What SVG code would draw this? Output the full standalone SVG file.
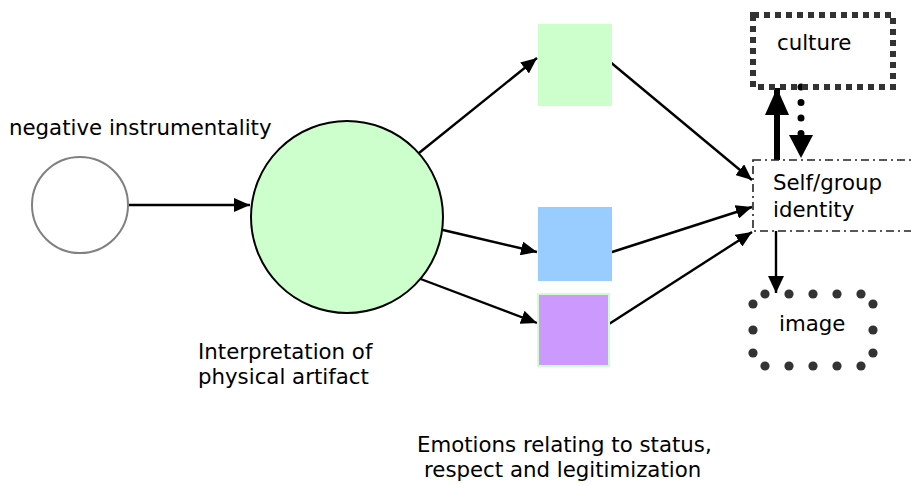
<svg xmlns="http://www.w3.org/2000/svg" width="911" height="485" viewBox="0 0 911 485">
  <style>
    text { font-family: "DejaVu Sans", Verdana, sans-serif; font-size: 21.3px; fill: #000; }
    .link { stroke: #000; stroke-width: 2.4; fill: none; marker-end: url(#head); }
    .dot { fill: #333; }
  </style>
  <defs>
    <marker id="head" markerUnits="userSpaceOnUse" viewBox="0 0 16 14" markerWidth="16" markerHeight="14" refX="16" refY="7" orient="auto">
      <path d="M0,0 L16,7 L0,14 z" fill="#000"/>
    </marker>
    <marker id="headSmall" markerUnits="userSpaceOnUse" viewBox="0 0 17 16" markerWidth="17" markerHeight="16" refX="17" refY="8" orient="auto">
      <path d="M0,0 L17,8 L0,16 z" fill="#000"/>
    </marker>
    <marker id="headBig" markerUnits="userSpaceOnUse" viewBox="0 0 27 24" markerWidth="27" markerHeight="24" refX="27" refY="12" orient="auto">
      <path d="M0,0 L27,12 L0,24 z" fill="#000"/>
    </marker>
  </defs>

  <!-- connectors -->
  <g id="connectors">
    <line class="link" x1="129" y1="205" x2="250" y2="205"/>
    <line class="link" x1="419" y1="153" x2="537" y2="58"/>
    <line class="link" x1="443" y1="230" x2="537" y2="252"/>
    <line class="link" x1="418" y1="278" x2="537" y2="323"/>
    <line class="link" x1="609" y1="61" x2="752" y2="180"/>
    <line class="link" x1="609" y1="253" x2="752" y2="207"/>
    <line class="link" x1="609" y1="324" x2="752" y2="232"/>
    <!-- self/group -> culture (bold) -->
    <line x1="777" y1="160" x2="777" y2="88" stroke="#000" stroke-width="6" marker-end="url(#headBig)"/>
    <!-- culture -> self/group (dotted) -->
    <line x1="801" y1="87" x2="801" y2="140" stroke="#000" stroke-width="7" stroke-linecap="round" stroke-dasharray="0 15.5"/>
    <path d="M789,135 L813,135 L801,158 z" fill="#000"/>
    <!-- self/group -> image -->
    <line x1="776" y1="231" x2="776" y2="293" stroke="#000" stroke-width="2.4" marker-end="url(#headSmall)"/>
  </g>

  <g id="negative-instrumentality">
    <circle cx="80" cy="205" r="48" fill="#fff" stroke="#808080" stroke-width="2"/>
    <text x="9" y="135">negative instrumentality</text>
  </g>

  <g id="interpretation">
    <circle cx="347" cy="217" r="96" fill="#ccffcc" stroke="#000" stroke-width="2"/>
    <text x="198" y="359">Interpretation of</text>
    <text x="198" y="384">physical artifact</text>
  </g>

  <g id="emotion-status">
    <rect x="538" y="24" width="74" height="82" fill="#ccffcc"/>
  </g>
  <g id="emotion-respect">
    <rect x="538" y="207" width="74" height="74" fill="#99ccff"/>
  </g>
  <g id="emotion-legitimization">
    <rect x="538" y="294" width="71" height="72" fill="#cc99ff" stroke="#ccffcc" stroke-width="2"/>
  </g>
  <g id="emotions-label">
    <text x="417" y="452">Emotions relating to status,</text>
    <text x="424" y="477">respect and legitimization</text>
  </g>

  <g id="self-group">
    <rect x="753" y="160" width="170" height="71" fill="none" stroke="#222" stroke-width="1.6" stroke-dasharray="8 4 2 4"/>
    <text x="773" y="190">Self/group</text>
    <text x="773" y="217">identity</text>
  </g>

  <g id="culture">
    <rect x="753" y="15" width="140" height="72" fill="none" stroke="#333" stroke-width="6" stroke-dasharray="6 5"/>
    <text x="777" y="50">culture</text>
  </g>

  <g id="image">
    <circle class="dot" cx="765" cy="294" r="4.6"/>
    <circle class="dot" cx="789" cy="294" r="4.6"/>
    <circle class="dot" cx="813" cy="294" r="4.6"/>
    <circle class="dot" cx="837" cy="294" r="4.6"/>
    <circle class="dot" cx="861" cy="294" r="4.6"/>
    <circle class="dot" cx="873" cy="304" r="4.6"/>
    <circle class="dot" cx="873" cy="330" r="4.6"/>
    <circle class="dot" cx="873" cy="353" r="4.6"/>
    <circle class="dot" cx="861" cy="366" r="4.6"/>
    <circle class="dot" cx="837" cy="366" r="4.6"/>
    <circle class="dot" cx="813" cy="366" r="4.6"/>
    <circle class="dot" cx="789" cy="366" r="4.6"/>
    <circle class="dot" cx="765" cy="366" r="4.6"/>
    <circle class="dot" cx="753" cy="353" r="4.6"/>
    <circle class="dot" cx="753" cy="330" r="4.6"/>
    <circle class="dot" cx="753" cy="304" r="4.6"/>
    <text x="779" y="331">image</text>
  </g>
</svg>
